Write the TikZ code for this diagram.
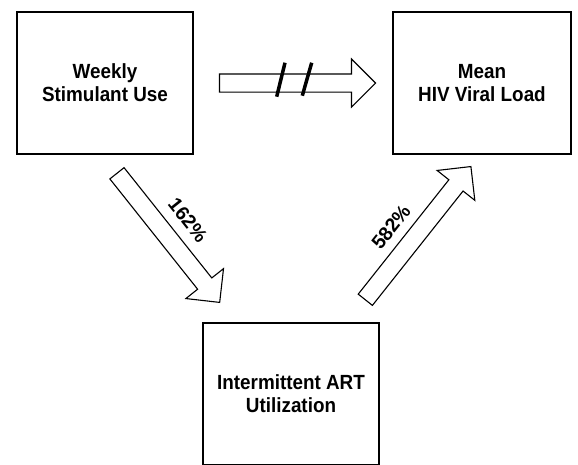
\documentclass[tikz,border=0pt]{standalone}
\usepackage{fontspec}
\setmainfont{Liberation Sans}[FakeStretch=0.92]
\newfontfamily\pctfont{Liberation Sans}
\usetikzlibrary{positioning,calc,shapes.arrows}
\tikzset{
    factor/.style = {
        draw,
        shape=rectangle,
        minimum width=176pt,
        minimum height=142pt,
        line width=2.2pt,
        align=center,
        font=\fontsize{20.5}{23}\selectfont\bfseries
    },
    blockarrow/.style = {
        draw,
        shape=single arrow,
        inner sep=0pt,
        inner ysep=8.5pt,
        single arrow head extend=15pt,
        line width=1.1pt,
        fill=white
    },
    pct/.style = {
        font=\pctfont\fontsize{19.5}{21}\selectfont\bfseries,
        inner sep=0pt
    },
    hash/.style = {
        line width=3.5pt
    },
}

\begin{document}
\begin{tikzpicture}[x=1pt,y=-1pt]
            \useasboundingbox (0,0) rectangle (578,464);
            \clip (0,0) rectangle (578,464);

            \node[factor] (weekly) at (105,83) {Weekly\\Stimulant Use};
            \node[factor, minimum width=178pt] (load) at (482,83) {Mean\\HIV Viral Load};
            \node[factor] (art) at (291,394) {Intermittent ART\\Utilization};

            \node[blockarrow, minimum height=156pt] (nolink) at ($(weekly.east)!0.5!(load.west)$) {};
            \path[draw, hash] (285,62.7) -- (276.7,96.7);
            \path[draw, hash] (311.7,62.7) -- (302.3,95.7);

            \node[blockarrow, minimum height=165pt, rotate=-51.5] (usetoart) at (165.5,234.3) {};
            \node[blockarrow, minimum height=170pt, rotate=51.6] (arttoload) at (415.3,236.7) {};

            \node[pct, rotate=-51.5] (pctuse) at (188,220) {162\%};
            \node[pct, rotate=51.6] (pctart) at (391,227) {582\%};

        \end{tikzpicture}
\end{document}
